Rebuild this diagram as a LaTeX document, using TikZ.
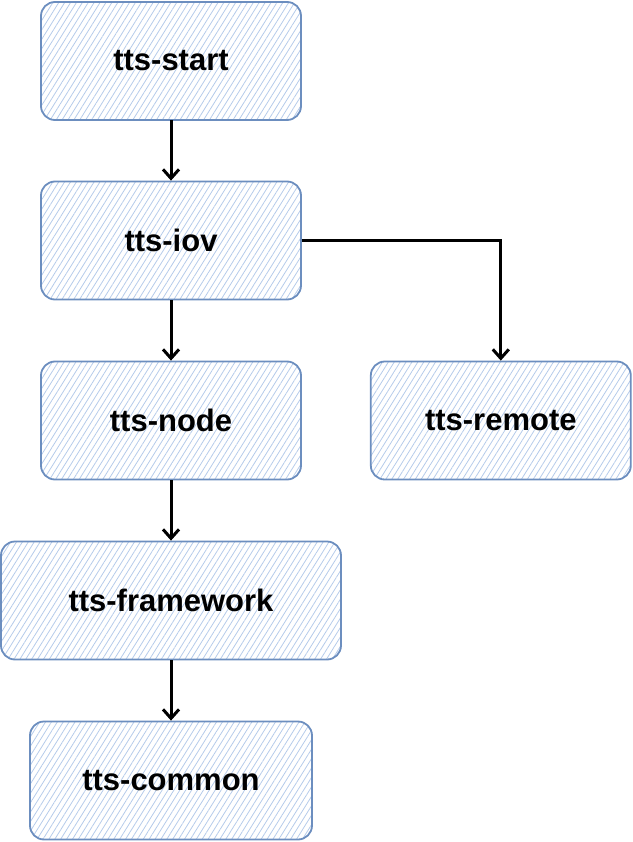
\documentclass[tikz,border=0pt]{standalone}
\usepackage{fontspec}
\setmainfont{Liberation Sans}
\usetikzlibrary{positioning,arrows.meta,patterns.meta}
\definecolor{boxline}{HTML}{6C8EBF}
\definecolor{hatchblue}{HTML}{B5CBEA}
\tikzset{
    module/.style={draw=boxline, line width=1.8pt, rounded corners=14pt,
        pattern={Lines[angle=58,distance=5pt,line width=0.8pt]}, pattern color=hatchblue,
        minimum width=260pt, minimum height=118pt,
        font=\bfseries\fontsize{31}{37}\selectfont},
    dep/.style={line width=3pt, -{Straight Barb[length=9pt,width=16pt]}}
}
\begin{document}
\begin{tikzpicture}[x=1pt, y=1pt, node distance=60.2pt]
    \useasboundingbox (0,0) rectangle (632,-842);
    % module stack
    \node[module] (start) at (171,-61) {tts-start};
    \node[module, below=of start] (iov) {tts-iov};
    \node[module, below=of iov] (ttsnode) {tts-node};
    \node[module, right=68pt of ttsnode] (remote) {tts-remote};
    \node[module, below=of ttsnode, minimum width=340pt] (framework) {tts-framework};
    \node[module, below=of framework, minimum width=282pt] (common) {tts-common};
    % dependencies
    \draw[dep] (start) -- (iov);
    \draw[dep] (iov) -- (ttsnode);
    \draw[dep] (iov.east) -| (remote.north);
    \draw[dep] (ttsnode) -- (framework);
    \draw[dep] (framework) -- (common);
\end{tikzpicture}
\end{document}
